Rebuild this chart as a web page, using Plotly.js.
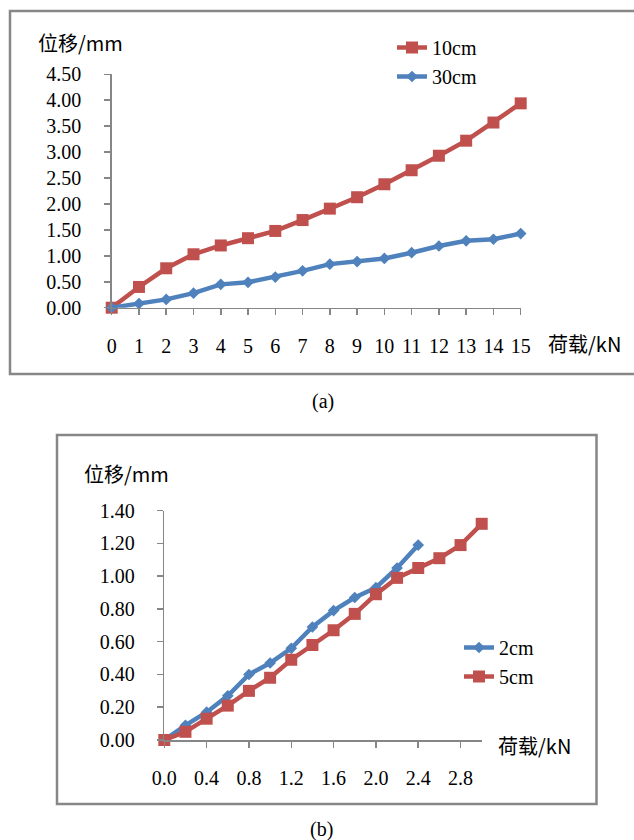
<!DOCTYPE html>
<html>
<head>
<meta charset="utf-8">
<script src="https://cdn.plot.ly/plotly-3.0.1.min.js"></script>
<style>html,body{margin:0;padding:0;background:#fff;}#chart{width:634px;height:840px;}</style>
</head>
<body>
<div id="chart"></div>
<script>
// Chart (a)
const loadA = [0,1,2,3,4,5,6,7,8,9,10,11,12,13,14,15];
const disp10cm = [0,0.40,0.76,1.03,1.20,1.34,1.48,1.69,1.91,2.13,2.38,2.65,2.93,3.22,3.57,3.94];
const disp30cm = [0,0.08,0.16,0.28,0.45,0.49,0.59,0.71,0.84,0.89,0.95,1.06,1.19,1.29,1.32,1.43];
// Chart (b)
const load2cm = [0,0.2,0.4,0.6,0.8,1.0,1.2,1.4,1.6,1.8,2.0,2.2,2.4];
const disp2cm = [0,0.09,0.17,0.27,0.40,0.47,0.56,0.69,0.79,0.87,0.93,1.05,1.19];
const load5cm = [0,0.2,0.4,0.6,0.8,1.0,1.2,1.4,1.6,1.8,2.0,2.2,2.4,2.6,2.8,3.0];
const disp5cm = [0,0.05,0.13,0.21,0.30,0.38,0.49,0.58,0.67,0.77,0.89,0.99,1.05,1.11,1.19,1.32];

const W = 634, H = 840;
const px = v => v / W;
const py = v => 1 - v / H;

const RED = '#C0504D', BLUE = '#4F81BD';
const serif = 'Liberation Serif, Times New Roman, serif';
const cjk = 'Noto Sans CJK SC, sans-serif';
const AX = '#868686';

const traces = [
  {x: loadA, y: disp10cm, name: '10cm', type: 'scatter', mode: 'lines+markers',
   xaxis: 'x', yaxis: 'y', legend: 'legend', cliponaxis: false,
   line: {color: RED, width: 4.5}, marker: {symbol: 'square', size: 12, color: RED}},
  {x: loadA, y: disp30cm, name: '30cm', type: 'scatter', mode: 'lines+markers',
   xaxis: 'x', yaxis: 'y', legend: 'legend', cliponaxis: false,
   line: {color: BLUE, width: 4.5}, marker: {symbol: 'diamond', size: 9, color: BLUE}},
  {x: load2cm, y: disp2cm, name: '2cm', type: 'scatter', mode: 'lines+markers',
   xaxis: 'x2', yaxis: 'y2', legend: 'legend2', cliponaxis: false,
   line: {color: BLUE, width: 4.5}, marker: {symbol: 'diamond', size: 9, color: BLUE}},
  {x: load5cm, y: disp5cm, name: '5cm', type: 'scatter', mode: 'lines+markers',
   xaxis: 'x2', yaxis: 'y2', legend: 'legend2', cliponaxis: false,
   line: {color: RED, width: 4.5}, marker: {symbol: 'square', size: 12, color: RED}}
];

const axisCommon = {
  showline: true, linecolor: AX, linewidth: 1.5, ticks: 'outside', ticklen: 6,
  tickcolor: AX, tickwidth: 1.5, showgrid: false, zeroline: false,
  tickfont: {family: serif, size: 20, color: '#000'}, fixedrange: true
};

const layout = {
  width: W, height: H,
  margin: {l: 0, r: 0, t: 0, b: 0},
  paper_bgcolor: '#fff', plot_bgcolor: 'rgba(0,0,0,0)',
  showlegend: true,
  xaxis: Object.assign({}, axisCommon, {domain: [px(111.7), px(520.7)], range: [0, 15],
    tick0: 0, dtick: 1, anchor: 'y', ticklabelstandoff: 14}),
  yaxis: Object.assign({}, axisCommon, {domain: [py(307.7), py(74.3)], range: [0, 4.5],
    tick0: 0, dtick: 0.5, tickformat: '.2f', anchor: 'x', ticklabelstandoff: 19}),
  xaxis2: Object.assign({}, axisCommon, {domain: [px(164.3), px(481.7)], range: [0, 3.0],
    tick0: 0, dtick: 0.4, tickformat: '.1f', anchor: 'y2', ticklabelstandoff: 13}),
  yaxis2: Object.assign({}, axisCommon, {domain: [py(740), py(510.7)], range: [0, 1.4],
    tick0: 0, dtick: 0.2, tickformat: '.2f', anchor: 'x2', ticklabelstandoff: 18}),
  legend: {x: px(392), y: py(28), xanchor: 'left', yanchor: 'top', bgcolor: 'rgba(0,0,0,0)',
    font: {family: serif, size: 20, color: '#000'}, itemwidth: 30, tracegroupgap: 0},
  legend2: {x: px(459), y: py(628), xanchor: 'left', yanchor: 'top', bgcolor: 'rgba(0,0,0,0)',
    font: {family: serif, size: 20, color: '#000'}, itemwidth: 30, tracegroupgap: 0},
  shapes: [
    {type: 'rect', xref: 'paper', yref: 'paper', x0: px(10), x1: px(645), y0: py(374), y1: py(11),
     line: {color: '#878787', width: 2.5}},
    {type: 'rect', xref: 'paper', yref: 'paper', x0: px(57), x1: px(596.5), y0: py(804), y1: py(435),
     line: {color: '#878787', width: 2.5}}
  ],
  annotations: [
    {text: '位移/mm', xref: 'paper', yref: 'paper', x: px(80), y: py(42), xanchor: 'center', yanchor: 'middle',
     showarrow: false, font: {family: cjk, size: 20, color: '#000'}},
    {text: '荷载/kN', xref: 'paper', yref: 'paper', x: px(584), y: py(343), xanchor: 'center', yanchor: 'middle',
     showarrow: false, font: {family: cjk, size: 20, color: '#000'}},
    {text: '(a)', xref: 'paper', yref: 'paper', x: px(322.7), y: py(401), xanchor: 'center', yanchor: 'middle',
     showarrow: false, font: {family: serif, size: 20, color: '#000'}},
    {text: '位移/mm', xref: 'paper', yref: 'paper', x: px(126), y: py(473), xanchor: 'center', yanchor: 'middle',
     showarrow: false, font: {family: cjk, size: 20, color: '#000'}},
    {text: '荷载/kN', xref: 'paper', yref: 'paper', x: px(534), y: py(745), xanchor: 'center', yanchor: 'middle',
     showarrow: false, font: {family: cjk, size: 20, color: '#000'}},
    {text: '(b)', xref: 'paper', yref: 'paper', x: px(322), y: py(829), xanchor: 'center', yanchor: 'middle',
     showarrow: false, font: {family: serif, size: 20, color: '#000'}}
  ]
};

Plotly.newPlot('chart', traces, layout, {staticPlot: true, displayModeBar: false});
</script>
</body>
</html>
